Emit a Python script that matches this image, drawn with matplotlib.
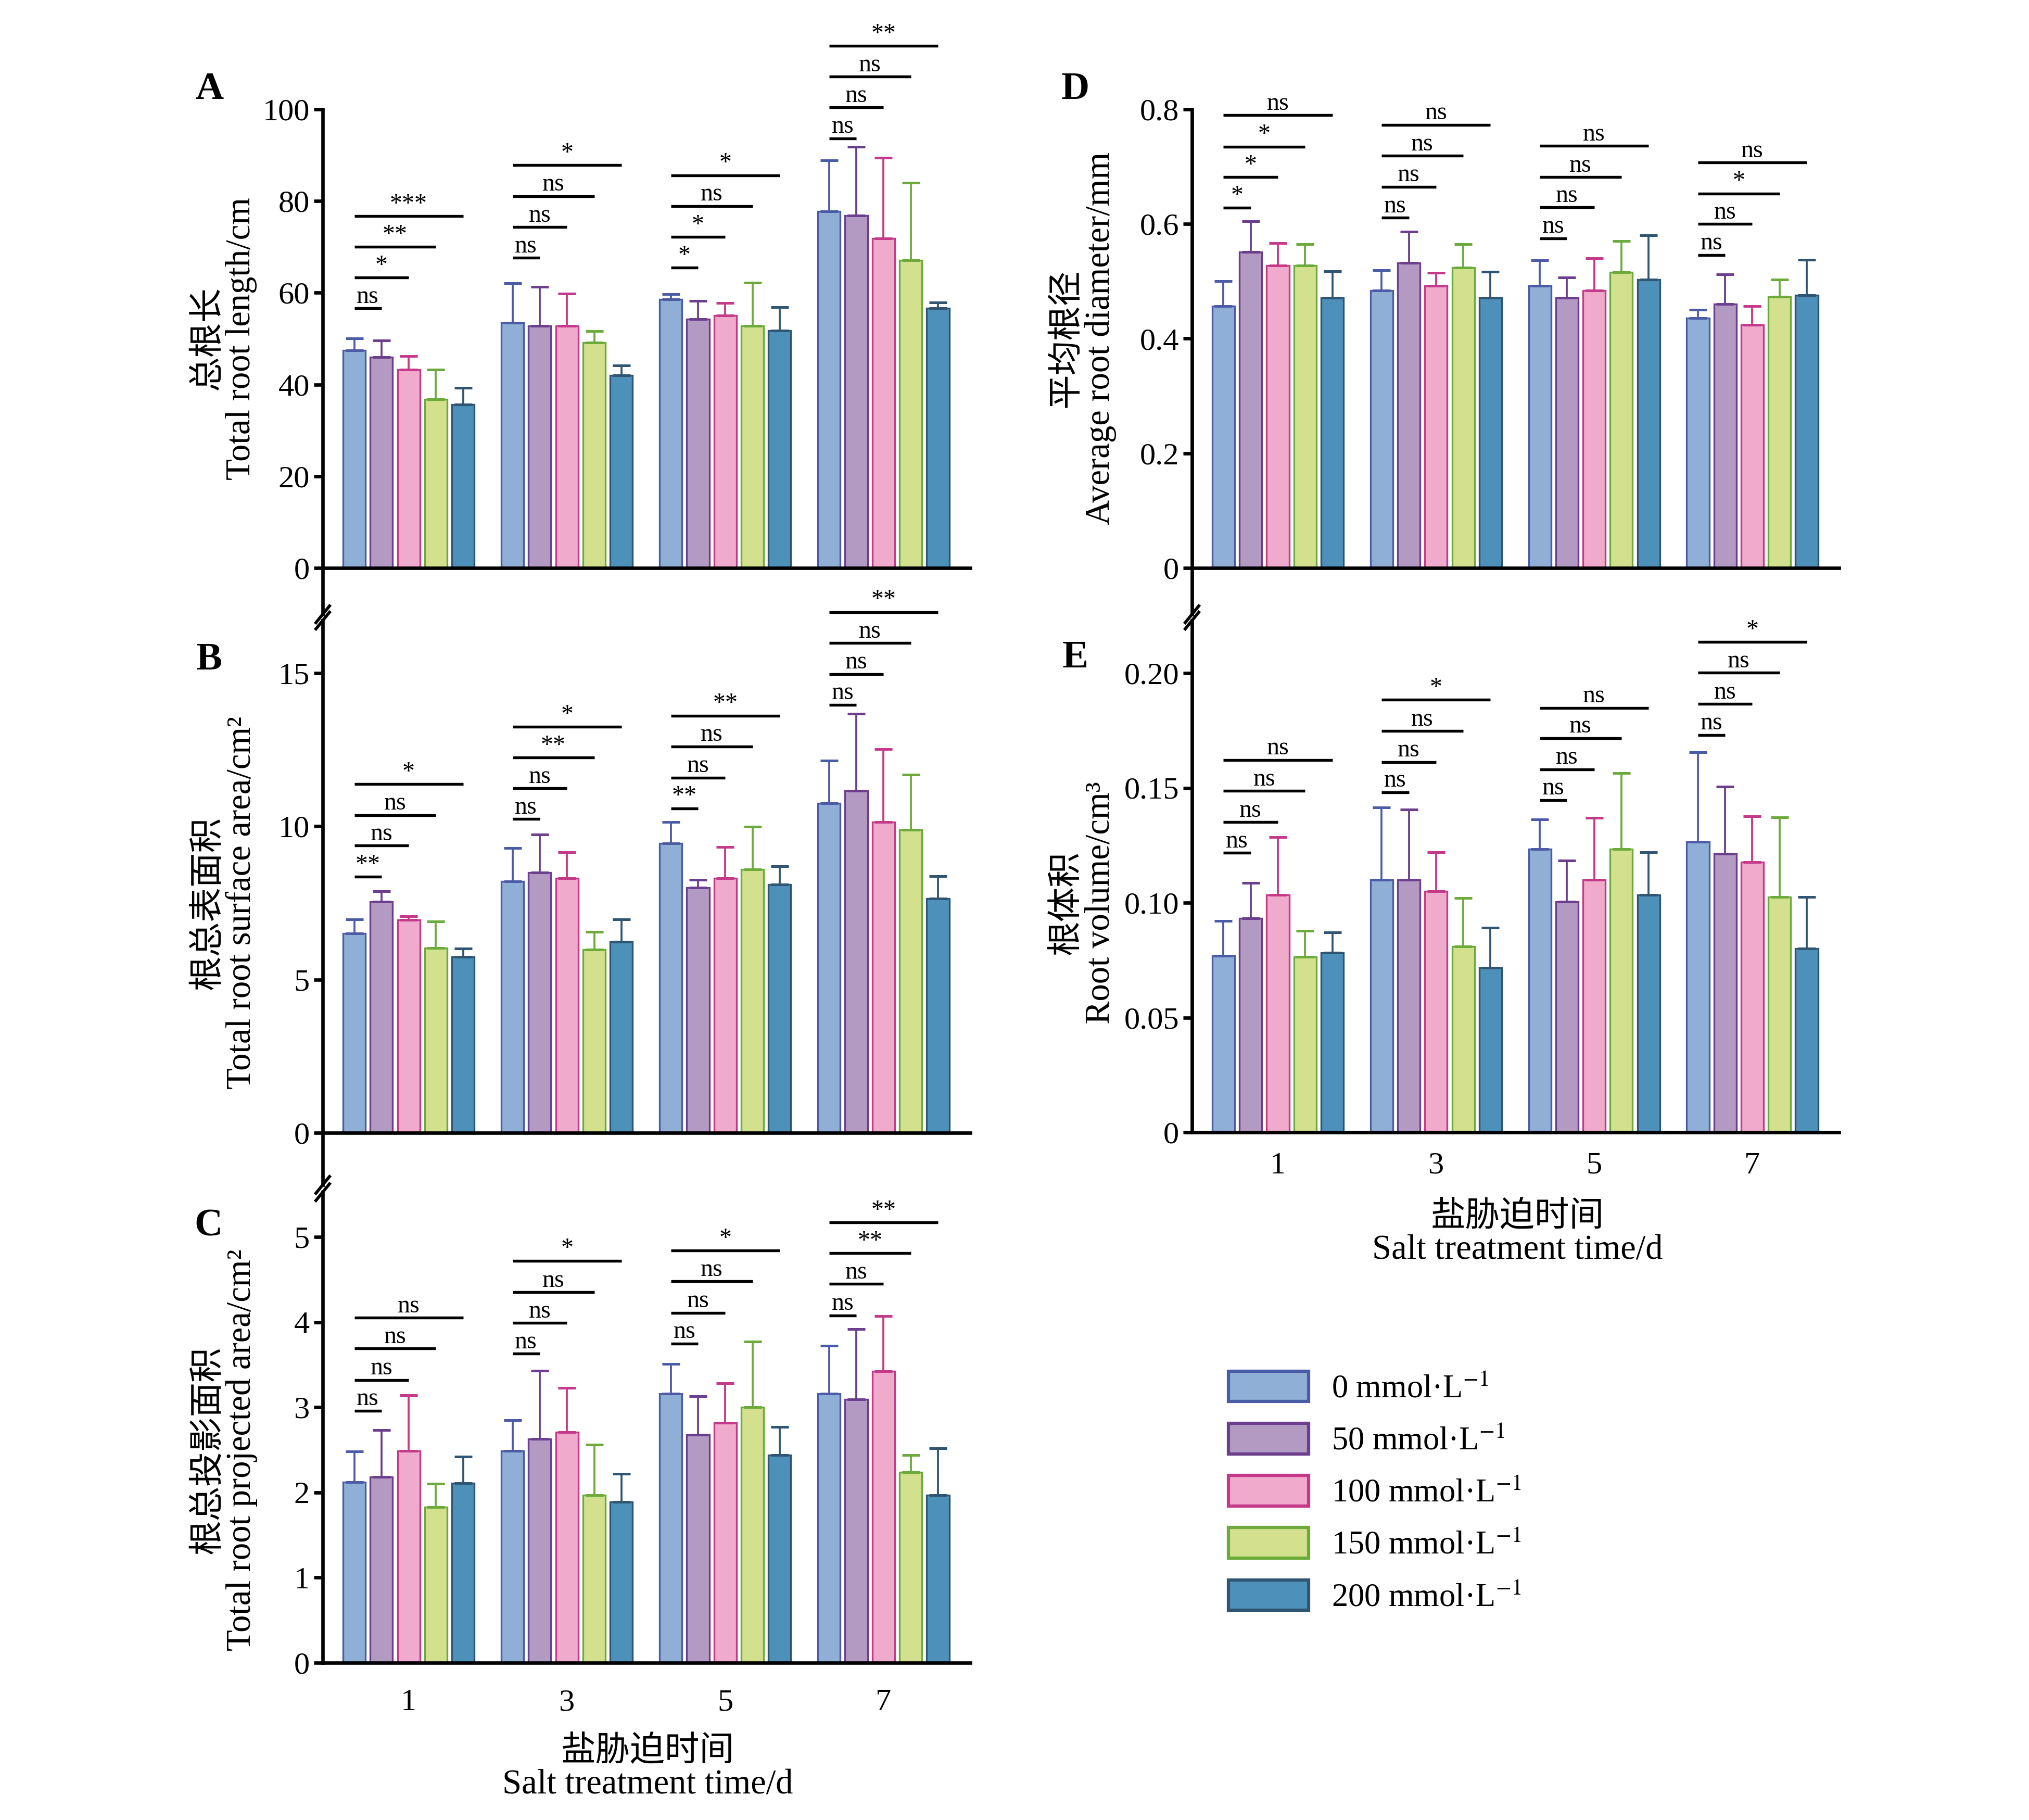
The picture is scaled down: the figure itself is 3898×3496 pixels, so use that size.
import numpy as np
import matplotlib
matplotlib.use('Agg')
import matplotlib.pyplot as plt
from matplotlib.lines import Line2D

plt.rcParams['font.family'] = ['Liberation Serif', 'Noto Sans CJK SC']
plt.rcParams['mathtext.fontset'] = 'stix'

# ---- data (rows = day 1, 3, 5, 7; columns = 0, 50, 100, 150, 200 mmol/L) ----
days = ['1', '3', '5', '7']
conc_labels = ['0 mmol·L$^{-1}$', '50 mmol·L$^{-1}$', '100 mmol·L$^{-1}$',
               '150 mmol·L$^{-1}$', '200 mmol·L$^{-1}$']

length_mean = [[47.4, 46.0, 43.3, 36.8, 35.6],
               [53.5, 52.8, 52.8, 49.1, 42.0],
               [58.6, 54.2, 55.1, 52.8, 51.8],
               [77.7, 76.9, 71.8, 67.1, 56.6]]
length_sd = [[2.7, 3.6, 2.9, 6.5, 3.7],
             [8.6, 8.5, 7.0, 2.6, 2.1],
             [1.1, 4.0, 2.7, 9.4, 5.1],
             [11.2, 14.9, 17.7, 16.9, 1.3]]
length_sig = [['ns', '*', '**', '***'], ['ns', 'ns', 'ns', '*'],
              ['*', '*', 'ns', '*'], ['ns', 'ns', 'ns', '**']]
length_sig_y = [[56.6, 63.3, 70.0, 76.7], [67.6, 74.3, 81.1, 87.8],
                [65.5, 72.2, 78.9, 85.6], [93.7, 100.4, 107.1, 113.8]]

surface_mean = [[6.50, 7.55, 6.94, 6.03, 5.75],
                [8.20, 8.50, 8.30, 5.98, 6.23],
                [9.44, 8.00, 8.30, 8.60, 8.10],
                [10.75, 11.16, 10.14, 9.89, 7.65]]
surface_sd = [[0.46, 0.33, 0.13, 0.86, 0.27],
              [1.10, 1.24, 0.86, 0.57, 0.73],
              [0.71, 0.26, 1.03, 1.39, 0.59],
              [1.39, 2.51, 2.38, 1.80, 0.73]]
surface_sig = [['**', 'ns', 'ns', '*'], ['ns', 'ns', '**', '*'],
               ['**', 'ns', 'ns', '**'], ['ns', 'ns', 'ns', '**']]
surface_sig_y = [[8.35, 9.37, 10.37, 11.38], [10.24, 11.24, 12.24, 13.25],
                 [10.59, 11.59, 12.61, 13.61], [13.97, 14.97, 15.98, 16.99]]

proj_mean = [[2.12, 2.18, 2.49, 1.83, 2.11],
             [2.49, 2.63, 2.71, 1.97, 1.89],
             [3.16, 2.68, 2.82, 3.00, 2.44],
             [3.16, 3.09, 3.42, 2.24, 1.97]]
proj_sd = [[0.36, 0.55, 0.65, 0.27, 0.31],
           [0.36, 0.80, 0.52, 0.59, 0.33],
           [0.35, 0.45, 0.46, 0.77, 0.33],
           [0.56, 0.83, 0.65, 0.20, 0.55]]
proj_sig = [['ns', 'ns', 'ns', 'ns'], ['ns', 'ns', 'ns', '*'],
            ['ns', 'ns', 'ns', '*'], ['ns', 'ns', '**', '**']]
proj_sig_y = [[2.96, 3.32, 3.69, 4.05], [3.63, 3.99, 4.35, 4.72],
              [3.75, 4.11, 4.48, 4.84], [4.08, 4.45, 4.81, 5.17]]

diam_mean = [[0.457, 0.551, 0.528, 0.528, 0.471],
             [0.484, 0.532, 0.492, 0.524, 0.471],
             [0.492, 0.471, 0.484, 0.516, 0.503],
             [0.436, 0.460, 0.424, 0.473, 0.476]]
diam_sd = [[0.043, 0.054, 0.039, 0.037, 0.047],
           [0.035, 0.055, 0.023, 0.041, 0.046],
           [0.045, 0.036, 0.056, 0.054, 0.077],
           [0.014, 0.052, 0.033, 0.030, 0.062]]
diam_sig = [['*', '*', '*', 'ns'], ['ns', 'ns', 'ns', 'ns'],
            ['ns', 'ns', 'ns', 'ns'], ['ns', 'ns', '*', 'ns']]
diam_sig_y = [[0.628, 0.682, 0.735, 0.790], [0.611, 0.665, 0.719, 0.773],
              [0.575, 0.629, 0.682, 0.736], [0.546, 0.600, 0.653, 0.707]]

vol_mean = [[0.0769, 0.0932, 0.1034, 0.0765, 0.0783],
            [0.1099, 0.1099, 0.1050, 0.0810, 0.0716],
            [0.1233, 0.1005, 0.1099, 0.1233, 0.1034],
            [0.1266, 0.1213, 0.1178, 0.1025, 0.0800]]
vol_sd = [[0.0151, 0.0154, 0.0252, 0.0112, 0.0088],
          [0.0317, 0.0307, 0.0169, 0.0211, 0.0175],
          [0.0130, 0.0179, 0.0270, 0.0332, 0.0185],
          [0.0390, 0.0293, 0.0199, 0.0346, 0.0225]]
vol_sig = [['ns', 'ns', 'ns', 'ns'], ['ns', 'ns', 'ns', '*'],
           ['ns', 'ns', 'ns', 'ns'], ['ns', 'ns', 'ns', '*']]
vol_sig_y = [[0.1217, 0.1351, 0.1487, 0.1622], [0.1481, 0.1613, 0.1748, 0.1884],
             [0.1447, 0.1581, 0.1717, 0.1849], [0.1731, 0.1866, 0.2002, 0.2136]]

# ---- style ----
fill_colors = ['#8FAFD7', '#B39AC3', '#F0AACB', '#D3E18F', '#4D91BA']
edge_colors = ['#4B5BA6', '#6B3F8E', '#C4398A', '#6BAA3B', '#2F5572']
bar_w = 0.142
offsets = (np.arange(5) - 2) * 0.172
W, H = 3898, 3496
LW = 1.6

fig = plt.figure(figsize=(W / 300, H / 300), dpi=300)


def make_axes(left, right, top, bottom, v0, y0, v1, y1):
    # v0 at pixel row y0, v1 at pixel row y1; axes spans pixel rows top..bottom
    scale = (y0 - y1) / (v1 - v0)
    ax = fig.add_axes([left / W, 1 - bottom / H, (right - left) / W, (bottom - top) / H])
    ax.set_ylim(v0 - (bottom - y0) / scale, v1 + (y1 - top) / scale)
    ax.set_xlim(-0.543, 3.548)
    return ax


def draw_panel(ax, means, sds, sig, sig_y, yticks, yticklabels, show_x=False, xpad=12):
    means = np.array(means)
    sds = np.array(sds)
    x = np.arange(len(days))
    for i in range(5):
        ax.bar(x + offsets[i], means[:, i], bar_w, color=fill_colors[i],
               edgecolor=edge_colors[i], linewidth=0.8, zorder=2)
        ax.errorbar(x + offsets[i], means[:, i], yerr=[np.zeros(len(x)), sds[:, i]],
                    fmt='none', ecolor=edge_colors[i], elinewidth=0.9,
                    capsize=4, capthick=1.2, zorder=3)
    for g in range(len(days)):
        for k in range(4):
            x0 = g + offsets[0]
            x1 = g + offsets[k + 1]
            y = sig_y[g][k]
            ax.plot([x0, x1], [y, y], color='black', lw=1.3, clip_on=False,
                    solid_capstyle='butt', zorder=4)
            ax.annotate(sig[g][k], xy=((x0 + x1) / 2, y), xytext=(0, 2.5),
                        textcoords='offset points', ha='center', va='baseline',
                        fontsize=11.5, annotation_clip=False)
    for side in ['top', 'right']:
        ax.spines[side].set_visible(False)
    ax.spines['left'].set_linewidth(LW)
    ax.spines['bottom'].set_linewidth(LW)
    ax.spines['bottom'].set_position(('data', 0))
    ax.set_yticks(yticks)
    ax.set_yticklabels(yticklabels)
    ax.tick_params(axis='y', direction='out', length=4, width=LW, labelsize=14.5, pad=2)
    ax.set_xticks(x)
    if show_x:
        ax.set_xticklabels(days)
        ax.tick_params(axis='x', length=0, labelsize=14.5, pad=xpad)
    else:
        ax.tick_params(axis='x', length=0, labelbottom=False)


def break_mark(xp, yp):
    fig.add_artist(Line2D([(xp - 13) / W, (xp + 13) / W],
                          [1 - (yp + 16) / H, 1 - (yp - 16) / H],
                          transform=fig.transFigure, color='black', lw=1.4))


axA = make_axes(620, 1864, 210, 1180, 0, 1091, 100, 210)
axB = make_axes(620, 1864, 1192, 2276, 0, 2176, 15, 1293)
axC = make_axes(620, 1864, 2290, 3194, 0, 3194, 5, 2376)
axD = make_axes(2290, 3533, 210, 1180, 0, 1091, 0.8, 210)
axE = make_axes(2290, 3533, 1192, 2175, 0, 2175, 0.20, 1293)

draw_panel(axA, length_mean, length_sd, length_sig, length_sig_y,
           [0, 20, 40, 60, 80, 100], ['0', '20', '40', '60', '80', '100'])
draw_panel(axB, surface_mean, surface_sd, surface_sig, surface_sig_y,
           [0, 5, 10, 15], ['0', '5', '10', '15'])
draw_panel(axC, proj_mean, proj_sd, proj_sig, proj_sig_y,
           [0, 1, 2, 3, 4, 5], ['0', '1', '2', '3', '4', '5'], show_x=True, xpad=12)
draw_panel(axD, diam_mean, diam_sd, diam_sig, diam_sig_y,
           [0, 0.2, 0.4, 0.6, 0.8], ['0', '0.2', '0.4', '0.6', '0.8'])
draw_panel(axE, vol_mean, vol_sd, vol_sig, vol_sig_y,
           [0, 0.05, 0.10, 0.15, 0.20], ['0', '0.05', '0.10', '0.15', '0.20'],
           show_x=True, xpad=9)

# axis breaks
for xp, yp in [(620, 1180), (620, 1192), (620, 2276), (620, 2290), (2290, 1180), (2290, 1192)]:
    break_mark(xp, yp)

# y labels
ylabels = [('总根长\nTotal root length/cm', 432, 650),
           ('根总表面积\nTotal root surface area/cm²', 432, 1734),
           ('根总投影面积\nTotal root projected area/cm²', 432, 2785),
           ('平均根径\nAverage root diameter/mm', 2082, 650),
           ('根体积\nRoot volume/cm³', 2082, 1734)]
for txt, xp, yp in ylabels:
    fig.text(xp / W, 1 - yp / H, txt, rotation=90, ha='center', va='center',
             multialignment='center', fontsize=16, linespacing=1.05)

# x labels
for xp, yp in [(1244, 3397), (2915, 2370)]:
    fig.text(xp / W, 1 - yp / H, '盐胁迫时间\nSalt treatment time/d', ha='center',
             va='center', multialignment='center', fontsize=16, linespacing=1.05)

# panel letters
for lab, xp, yp in [('A', 402, 172), ('B', 402, 1268), ('C', 400, 2356),
                    ('D', 2066, 172), ('E', 2066, 1264)]:
    fig.text(xp / W, 1 - yp / H, lab, ha='center', va='center', fontsize=18,
             fontweight='bold')

# legend
handles = [plt.Rectangle((0, 0), 1, 1, facecolor=fill_colors[i], edgecolor=edge_colors[i],
                         linewidth=1.5) for i in range(5)]
fig.legend(handles, conc_labels, loc='upper left', bbox_to_anchor=(2360 / W, 1 - 2634 / H),
           frameon=False, fontsize=15, handlelength=2.46, handleheight=1.06,
           handletextpad=0.7, labelspacing=0.57, borderpad=0, borderaxespad=0)

fig.savefig('out.png', dpi=300)
